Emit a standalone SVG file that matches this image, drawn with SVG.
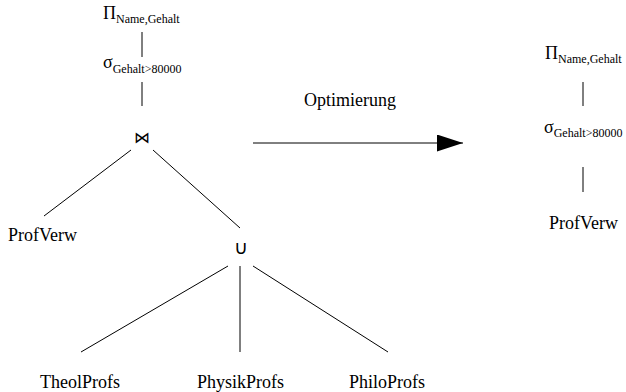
<svg xmlns="http://www.w3.org/2000/svg" width="626" height="392" viewBox="0 0 626 392">
<defs>
<style>
text{font-family:"Liberation Serif","Times New Roman",serif;fill:#000}
.t{font-size:18px}
.s{font-size:12px}
.sym{font-family:"DejaVu Sans",sans-serif}
.c line{stroke:#000;stroke-width:1}
</style>
<marker id="ah" viewBox="0 0 26 17" refX="26" refY="8.5" markerWidth="26" markerHeight="17" markerUnits="userSpaceOnUse" orient="auto">
<path d="M0,0 L26,8.5 L0,17 Z" fill="#000"/>
</marker>
</defs>
<rect width="626" height="392" fill="#fff"/>
<g class="c" id="connectors">
<line x1="142" y1="32" x2="142" y2="57"/>
<line x1="142" y1="82" x2="142" y2="106"/>
<line x1="131" y1="150" x2="44" y2="216"/>
<line x1="153" y1="150" x2="240" y2="228"/>
<line x1="228" y1="266" x2="81" y2="352"/>
<line x1="240" y1="266" x2="240" y2="352"/>
<line x1="253" y1="266" x2="388" y2="352"/>
<line x1="583" y1="82" x2="583" y2="106"/>
<line x1="583" y1="167" x2="583" y2="192"/>
<line x1="253" y1="143" x2="463" y2="143" marker-end="url(#ah)"/>
</g>
<g id="proj1"><text x="103" y="19" class="t">Π<tspan class="s" dy="4">Name,Gehalt</tspan></text></g>
<g id="sel1"><text x="103" y="68" class="t">σ<tspan class="s" dy="5">Gehalt&gt;80000</tspan></text></g>
<g id="join"><text x="142" y="143" class="sym" font-size="16" text-anchor="middle">⋈</text></g>
<g id="profverw1"><text x="8" y="241" class="t">ProfVerw</text></g>
<g id="union"><text x="241" y="254" class="sym" font-size="19" text-anchor="middle">∪</text></g>
<g id="theol"><text x="40" y="388" class="t">TheolProfs</text></g>
<g id="physik"><text x="197" y="388" class="t">PhysikProfs</text></g>
<g id="philo"><text x="349" y="388" class="t">PhiloProfs</text></g>
<g id="opt"><text x="304" y="106" class="t">Optimierung</text></g>
<g id="proj2"><text x="545" y="59" class="t">Π<tspan class="s" dy="4">Name,Gehalt</tspan></text></g>
<g id="sel2"><text x="544" y="133" class="t">σ<tspan class="s" dy="4">Gehalt&gt;80000</tspan></text></g>
<g id="profverw2"><text x="549" y="229" class="t">ProfVerw</text></g>
</svg>
